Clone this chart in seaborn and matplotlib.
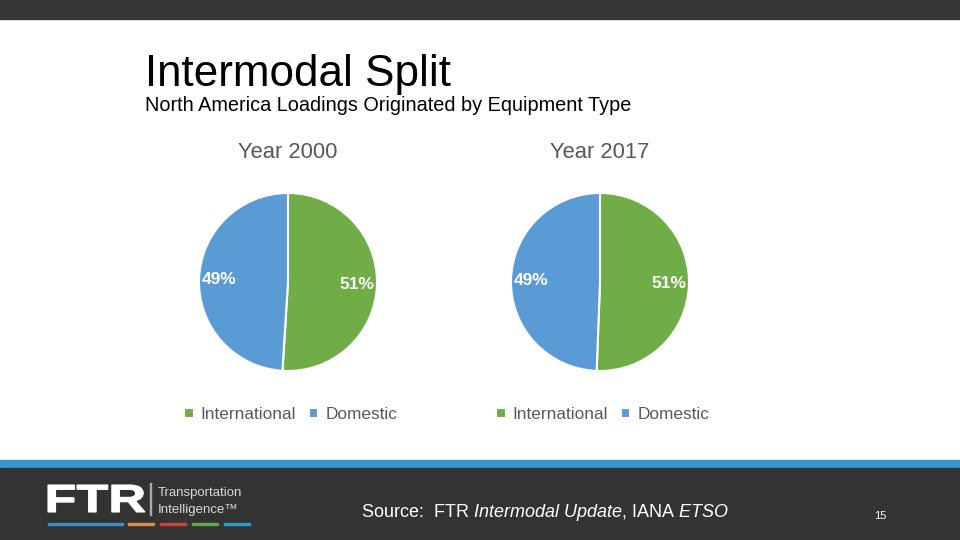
import matplotlib
matplotlib.use("Agg")
import matplotlib.pyplot as plt
from matplotlib.patches import Rectangle, PathPatch
from matplotlib.textpath import TextPath
from matplotlib.font_manager import FontProperties
from matplotlib.transforms import Affine2D
import seaborn as sns

# dados
categorias = ["International", "Domestic"]
anos = ["Year 2000", "Year 2017"]
valores_2000 = [51.0, 49.0]
valores_2017 = [50.6, 49.4]

sns.set_theme(style="white")
plt.rcParams["font.family"] = ["Liberation Sans", "DejaVu Sans"]
plt.rcParams["mathtext.fontset"] = "custom"
plt.rcParams["mathtext.rm"] = "Liberation Sans"
plt.rcParams["mathtext.it"] = "Liberation Sans:italic"

cores = sns.color_palette(["#70AD47", "#5B9BD5"])
cinza = "#595959"

W, H = 960, 540
fig = plt.figure(figsize=(9.6, 5.4), dpi=100)
fig.patch.set_facecolor("white")

# faixas do slide
fig.add_artist(Rectangle((0, 1 - 19 / H), 1, 19 / H, transform=fig.transFigure,
                         color="#363636", zorder=0))
fig.add_artist(Rectangle((0, 72 / H), 1, 8 / H, transform=fig.transFigure,
                         color="#3399CC", zorder=0))
fig.add_artist(Rectangle((0, 0), 1, 72 / H, transform=fig.transFigure,
                         color="#333333", zorder=0))

# titulos
fig.text(145 / W, 1 - 86 / H, "Intermodal Split", fontsize=31.7, color="black")
fig.text(145 / W, 1 - 111 / H, "North America Loadings Originated by Equipment Type",
         fontsize=14.3, color="black")


def desenha_pizza(cx, valores, titulo):
    r = 89
    ax = fig.add_axes([(cx - r) / W, (258 - r) / H, 2 * r / W, 2 * r / H])
    wedges, textos, pcts = ax.pie(valores, colors=cores, startangle=90,
                                  counterclock=False, autopct="%.0f%%",
                                  pctdistance=0.77,
                                  wedgeprops=dict(edgecolor="white", linewidth=1.5),
                                  textprops=dict(color="white", fontsize=12.5,
                                                 fontweight="bold"))
    ax.set_xlim(-1, 1)
    ax.set_ylim(-1, 1)
    ax.set_aspect("equal")
    ax.text(0, 1.45, titulo, ha="center", va="center", fontsize=15.8, color=cinza,
            transform=ax.transData)
    ax.legend(wedges, categorias, ncol=2, loc="center", bbox_to_anchor=(0.515, -0.245),
              frameon=False, handlelength=0.55, handleheight=0.55, handletextpad=0.4,
              columnspacing=0.75, fontsize=12.4, labelcolor=cinza)
    return ax


desenha_pizza(288, valores_2000, anos[0])
desenha_pizza(600, valores_2017, anos[1])

# rodape: logo (FTR esticado na horizontal)
tp = TextPath((0, 0), "FTR", size=38, prop=FontProperties(family="Liberation Sans",
                                                          weight="bold"))
ext = tp.get_extents()
sx = 97 / ext.width
sy = 27 / ext.height
tr = Affine2D().translate(-ext.x0, -ext.y0).scale(sx, sy).translate(48, H - 512)
fig.add_artist(PathPatch(tr.transform_path(tp), facecolor="white", edgecolor="white",
                         linewidth=0.8, transform=None))
fig.add_artist(Rectangle((150 / W, 1 - 515 / H), 1 / W, 32 / H,
                         transform=fig.transFigure, color="#aaaaaa"))
fig.text(158 / W, 1 - 496 / H, "Transportation", fontsize=9.5, color="#d8d8d8")
fig.text(158 / W, 1 - 513 / H, "Intelligence\u2122", fontsize=9.5, color="#d8d8d8")
for x0, x1, c in [(48, 123, "#3A8FC4"), (128, 154, "#D98B4A"), (160, 186, "#C8473A"),
                  (192, 218, "#5FA845"), (224, 250, "#2E9BC9")]:
    fig.add_artist(Rectangle((x0 / W, 1 - 525 / H), (x1 - x0) / W, 2.5 / H,
                             transform=fig.transFigure, color=c))

fig.text(361 / W, 1 - 517 / H,
         r"Source:  FTR $\it{Intermodal\ Update}$, IANA $\it{ETSO}$",
         fontsize=13.0, color="white")
fig.text(874 / W, 1 - 519 / H, "15", fontsize=8, color="white")

fig.savefig("out.png", dpi=100, facecolor=fig.get_facecolor())
